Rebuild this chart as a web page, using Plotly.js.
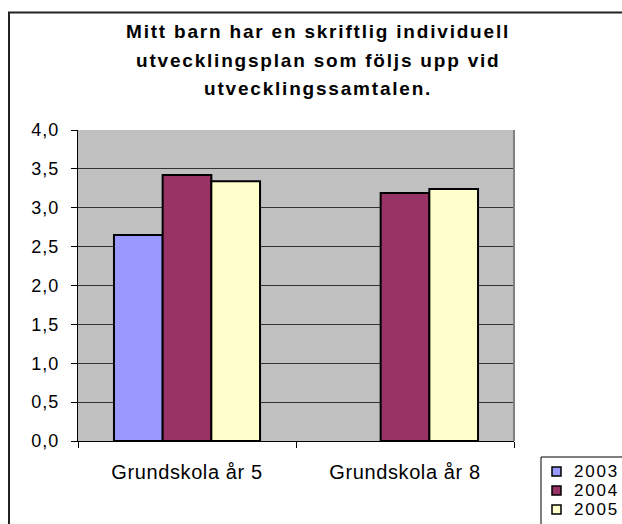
<!DOCTYPE html>
<html>
<head>
<meta charset="utf-8">
<script src="https://cdn.plot.ly/plotly-3.0.1.min.js"></script>
<style>
  html, body { margin: 0; padding: 0; background: #ffffff; overflow: hidden; }
  #chart { width: 622px; height: 524px; }
  .annotation-text { letter-spacing: 1.8px; }
  .xtick text { letter-spacing: 0.6px; }
  .ytick text { letter-spacing: 1px; }
</style>
</head>
<body>
<div id="chart"></div>
<script>
// ---- data ----
const categories = ['Grundskola år 5', 'Grundskola år 8'];
const seriesNames = ['2003', '2004', '2005'];
const values2003 = [2.65, null];
const values2004 = [3.42, 3.19];
const values2005 = [3.34, 3.24];
const titleLines = [
  'Mitt barn har en skriftlig individuell',
  'utvecklingsplan som följs upp vid',
  'utvecklingssamtalen.'
];
const yTickValues = [0, 0.5, 1, 1.5, 2, 2.5, 3, 3.5, 4];

// ---- style ----
const colors = ['#9999FF', '#993366', '#FFFFCC'];
const FONT = 'Liberation Sans, Arial, sans-serif';
const seriesValues = [values2003, values2004, values2005];

const traces = seriesNames.map((name, i) => ({
  type: 'bar',
  name: name,
  x: categories,
  y: seriesValues[i],
  marker: { color: colors[i], line: { color: '#000000', width: 2 } },
  hoverinfo: 'skip'
}));

// plot area in pixels: x 78..514, y 130..441
const PX0 = 78, PW = 436, PY0 = 441, PH = 311;
const px = v => (v - PX0) / PW;
const py = v => (PY0 - v) / PH;

const titleCentersPx = [31.5, 60, 88];
const annotations = titleLines.map((t, i) => ({
  text: '<b>' + t + '</b>',
  xref: 'paper', yref: 'paper',
  x: px(318), y: py(titleCentersPx[i]),
  xanchor: 'center', yanchor: 'middle',
  showarrow: false,
  font: { family: FONT, size: 19, color: '#000000' }
}));

// custom legend (Excel style, compact rows)
const legendRowPx = [471.5, 490.5, 509.5];
const legendShapes = seriesNames.map((name, i) => ({
  type: 'rect', xref: 'paper', yref: 'paper',
  x0: px(552), x1: px(561),
  y0: py(legendRowPx[i] + 4.5), y1: py(legendRowPx[i] - 4.5),
  fillcolor: colors[i],
  line: { color: '#000000', width: 1.5 },
  layer: 'above'
}));
const legendTexts = seriesNames.map((name, i) => ({
  text: name,
  xref: 'paper', yref: 'paper',
  x: px(572), y: py(legendRowPx[i]),
  xanchor: 'left', yanchor: 'middle',
  showarrow: false,
  font: { family: FONT, size: 17, color: '#000000' }
}));

const layout = {
  width: 622,
  height: 524,
  margin: { l: 78, r: 108, t: 130, b: 83, autoexpand: false },
  paper_bgcolor: '#ffffff',
  plot_bgcolor: '#C0C0C0',
  separators: ', ',
  barmode: 'group',
  bargap: 0.33,
  bargroupgap: 0,
  showlegend: false,
  xaxis: {
    type: 'category',
    tickson: 'boundaries',
    ticks: 'outside',
    ticklen: 6,
    tickcolor: '#000000',
    tickwidth: 1,
    showline: true,
    linecolor: '#000000',
    linewidth: 1,
    showgrid: false,
    ticklabelstandoff: 13,
    tickfont: { family: FONT, size: 20, color: '#000000' },
    fixedrange: true
  },
  yaxis: {
    range: [0, 4],
    tickvals: yTickValues,
    tickformat: '.1f',
    ticks: 'outside',
    ticklen: 6,
    tickcolor: '#000000',
    tickwidth: 1,
    showline: true,
    linecolor: '#000000',
    linewidth: 1,
    showgrid: true,
    gridcolor: '#333333',
    gridwidth: 1,
    zeroline: false,
    ticklabelstandoff: 8,
    tickfont: { family: FONT, size: 18, color: '#000000' },
    fixedrange: true
  },
  annotations: annotations.concat(legendTexts),
  shapes: [
    // plot area right border (gray)
    { type: 'line', xref: 'paper', yref: 'paper', x0: 1, x1: 1, y0: 0, y1: 1,
      line: { color: '#808080', width: 2 }, layer: 'above' },
    // outer chart border
    { type: 'rect', xref: 'paper', yref: 'paper', x0: px(9), x1: px(640), y0: py(560), y1: py(12.5),
      line: { color: '#222222', width: 2 }, fillcolor: 'rgba(0,0,0,0)', layer: 'above' },
    // legend box
    { type: 'rect', xref: 'paper', yref: 'paper', x0: px(541), x1: px(640), y0: py(560), y1: py(457),
      line: { color: '#000000', width: 1 }, fillcolor: 'rgba(0,0,0,0)', layer: 'above' }
  ].concat(legendShapes)
};

Plotly.newPlot('chart', traces, layout, { displayModeBar: false, staticPlot: true });
</script>
</body>
</html>
